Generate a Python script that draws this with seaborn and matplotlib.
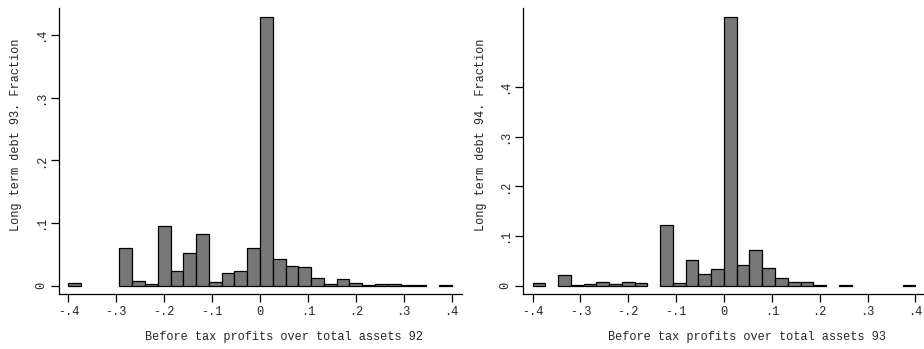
import numpy as np
import pandas as pd
import matplotlib
matplotlib.use("Agg")
import matplotlib.pyplot as plt
import seaborn as sns

# 30 equal-width bins spanning -0.4 .. 0.4
bin_edges = np.linspace(-0.4, 0.4, 31)
bin_centers = (bin_edges[:-1] + bin_edges[1:]) / 2

# Fraction of firms per bin
frac_93 = [0.005, 0.0, 0.0, 0.0, 0.060, 0.007, 0.002, 0.096, 0.023, 0.052,
           0.082, 0.006, 0.020, 0.024, 0.061, 0.429, 0.043, 0.032, 0.030, 0.013,
           0.003, 0.010, 0.005, 0.0015, 0.003, 0.002, 0.0015, 0.0005, 0.0, 0.001]
frac_94 = [0.005, 0.0, 0.0215, 0.0013, 0.0027, 0.0067, 0.0034, 0.008, 0.006, 0.0,
           0.122, 0.0047, 0.051, 0.023, 0.0336, 0.540, 0.041, 0.0725, 0.036, 0.0154,
           0.0067, 0.0067, 0.002, 0.0, 0.0013, 0.0, 0.0, 0.0, 0.0, 0.0007]

x_ticks = [-0.4, -0.3, -0.2, -0.1, 0.0, 0.1, 0.2, 0.3, 0.4]
x_tick_labels = ["-.4", "-.3", "-.2", "-.1", "0", ".1", ".2", ".3", ".4"]
y_ticks = [0.0, 0.1, 0.2, 0.3, 0.4]
y_tick_labels = ["0", ".1", ".2", ".3", ".4"]

panels = [
    dict(values=frac_93, xlabel="Before tax profits over total assets 92",
         ylabel="Long term debt 93. Fraction",
         rect=[0.0635, 0.1567, 0.4362, 0.8195], ylim=(-0.0137, 0.443),
         xlim=(-0.4203, 0.4211)),
    dict(values=frac_94, xlabel="Before tax profits over total assets 93",
         ylabel="Long term debt 94. Fraction",
         rect=[0.5657, 0.1567, 0.4340, 0.8195], ylim=(-0.0173, 0.5585),
         xlim=(-0.4207, 0.4175)),
]

sns.set_style("white")
plt.rcParams["font.family"] = ["Liberation Mono", "DejaVu Sans Mono"]
text_color = "#262626"
fs = 8.6

fig = plt.figure(figsize=(9.24, 3.49), dpi=100)

for p in panels:
    ax = fig.add_axes(p["rect"])
    df = pd.DataFrame({"x": bin_centers, "w": p["values"]})
    sns.histplot(data=df, x="x", weights="w", bins=list(bin_edges), stat="count",
                 color="#777777", alpha=1.0, edgecolor="black", linewidth=0.9,
                 ax=ax)
    # empty bins leave a gap, not a flat outline
    for patch in ax.patches:
        if patch.get_height() <= 0:
            patch.set_visible(False)
    ax.set_xlim(*p["xlim"])
    ax.set_ylim(*p["ylim"])
    ax.set_xticks(x_ticks)
    ax.set_xticklabels(x_tick_labels, fontsize=fs, color=text_color)
    ax.set_yticks(y_ticks)
    ax.set_yticklabels(y_tick_labels, fontsize=fs, color=text_color,
                       rotation=90, va="center")
    ax.tick_params(axis="both", direction="out", length=5.5, width=0.9,
                   color="black", pad=3, bottom=True, left=True)
    for side in ("top", "right"):
        ax.spines[side].set_visible(False)
    for side in ("bottom", "left"):
        ax.spines[side].set_color("black")
        ax.spines[side].set_linewidth(0.9)
    ax.set_xlabel(p["xlabel"], fontsize=fs, color=text_color)
    ax.set_ylabel(p["ylabel"], fontsize=fs, color=text_color)
    ax.xaxis.set_label_coords(0.56, -0.148)
    ax.yaxis.set_label_coords(-0.105, 0.557)
    ax.xaxis.label.set_va("center")
    ax.yaxis.label.set_va("center")
    ax.grid(False)

fig.savefig("out.png", dpi=100, facecolor="white")
